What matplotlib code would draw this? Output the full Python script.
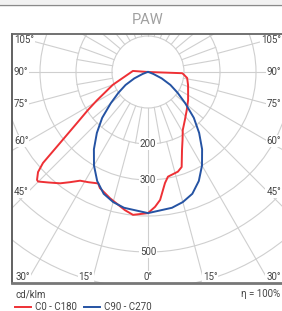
import numpy as np
import matplotlib
matplotlib.use("Agg")
import matplotlib.pyplot as plt
from matplotlib.patches import Circle
from matplotlib.lines import Line2D

plt.rcParams['font.family'] = ['Roboto', 'DejaVu Sans']

# C90 - C270 (symmetric), gamma in degrees from nadir, intensity in cd/klm
gamma_c90 = [0, 10, 15, 20, 25, 30, 35, 40, 45, 50, 55, 60, 65, 70, 75, 80, 90, 180]
i_c90 = [392, 383, 374, 360, 334, 300, 262, 221, 180, 135, 100, 72, 42, 16, 4, 0, 0, 0]

# C0 - C180, left half (C180) and right half (C0)
gamma_c180 = [180, 100, 94, 70, 61, 57.7, 54.3, 51.1, 49.1, 47.7, 45.8, 45.1, 42,
              38.3, 35.3, 32.0, 28.4, 24.1, 22.5, 16.8, 9.5, 6, 0]
i_c180 = [0, 0, 42, 104, 162, 197, 243, 314, 386, 413, 430, 431, 413,
          394, 375, 356, 348, 339, 349, 366, 389, 399, 392]
gamma_c0 = [0, 3, 5.4, 8.7, 10.8, 16.7, 19.5, 23.6, 26.9, 30.9, 37.6, 46, 55, 63,
            72, 81.3, 86.7, 88, 100, 180]
i_c0 = [392, 375, 357, 312, 296, 289, 280, 236, 212, 188, 168, 150, 136, 125,
        117, 110, 98, 95, 0, 0]

rings = [100, 200, 300, 400, 500, 600, 700, 800]
ring_labels = [200, 300, 500]
angle_labels = [105, 90, 75, 60, 45]
bottom_labels = [30, 15, 0, 15, 30]

grid_c = '#cfcfcf'
red = '#ee3035'
blue = '#2553a3'
txt_c = '#444444'
fs = 7


def to_xy(g, r, side):
    g = np.radians(np.asarray(g, dtype=float))
    r = np.asarray(r, dtype=float)
    return side * r * np.sin(g), -r * np.cos(g)


fig = plt.figure(figsize=(2.82, 3.11), dpi=100)
W, H = 282, 311
cx, cy, sc = 148, 72, 0.36  # centre in px, px per cd/klm

ax = fig.add_axes([12 / W, (H - 283) / H, 272 / W, 249 / H])
ax.set_xlim((12 - cx) / sc, (284 - cx) / sc)
ax.set_ylim(-(283 - cy) / sc, (cy - 34) / sc)
ax.set_xticks([])
ax.set_yticks([])
ax.spines['left'].set_color('#555555')
ax.spines['left'].set_linewidth(1.3)
ax.spines['top'].set_color('#666666')
ax.spines['top'].set_linewidth(1.3)
ax.spines['bottom'].set_color('#777777')
ax.spines['bottom'].set_linewidth(2)
ax.spines['right'].set_visible(False)

# grid
for r in rings:
    ax.add_patch(Circle((0, 0), r, fill=False, ec=grid_c, lw=0.8, zorder=1))
for a in range(0, 360, 10):
    t = np.radians(a)
    ax.plot([100 * np.sin(t), 200 * np.sin(t)], [-100 * np.cos(t), -200 * np.cos(t)],
            color=grid_c, lw=0.8, zorder=1)
for a in range(0, 360, 15):
    t = np.radians(a)
    ax.plot([200 * np.sin(t), 2000 * np.sin(t)], [-200 * np.cos(t), -2000 * np.cos(t)],
            color=grid_c, lw=0.8, zorder=1)

# curves
xl, yl = to_xy(gamma_c180, i_c180, -1)
xr, yr = to_xy(gamma_c0, i_c0, 1)
ax.plot(np.concatenate([xl, xr]), np.concatenate([yl, yr]), color=red, lw=1.4, zorder=3)
xb1, yb1 = to_xy(gamma_c90[::-1], i_c90[::-1], -1)
xb2, yb2 = to_xy(gamma_c90, i_c90, 1)
ax.plot(np.concatenate([xb1, xb2]), np.concatenate([yb1, yb2]), color=blue, lw=1.4, zorder=4)

bb = dict(fc='white', ec='none', pad=0.6)
for r in ring_labels:
    ax.text(0, -r, str(r), ha='center', va='center', fontsize=fs, color=txt_c,
            bbox=bb, zorder=2)

xe = (148 - 28) / sc
for a in angle_labels:
    y = -xe / np.tan(np.radians(a)) if a != 90 else 0
    ax.text(-(cx - 14) / sc, y, f'{a}°', ha='left', va='center', fontsize=fs,
            color=txt_c, bbox=bb, zorder=2)
    ax.text((281 - cx) / sc, y, f'{a}°', ha='right', va='center', fontsize=fs,
            color=txt_c, bbox=bb, zorder=2)

yb = -(277 - cy) / sc
for i, a in enumerate(bottom_labels):
    x = yb * np.tan(np.radians(a))
    side = -1 if i < 2 else 1
    ha = 'center' if a == 0 else ('right' if side < 0 else 'left')
    ax.text(side * abs(x), yb, f'{a}°', ha=ha, va='center', fontsize=fs,
            color=txt_c, bbox=bb, zorder=2)

# header line and title
fig.add_artist(Line2D([0, 1], [1 - 4.5 / H, 1 - 4.5 / H], color='#8a8a8a', lw=1))
fig.patches.append(plt.Rectangle((0, 1 - 4 / H), 1, 4 / H, transform=fig.transFigure,
                                 fc='#f2f2f2', ec='none'))
fig.text(148 / W, 1 - 20 / H, 'PAW', ha='center', va='center', fontsize=10.5,
         color='#a0a0a0')

fig.text(15 / W, 1 - 295 / H, 'cd/klm', ha='left', va='center', fontsize=fs, color=txt_c)
fig.text(280 / W, 1 - 294 / H, 'η = 100%', ha='right', va='center', fontsize=fs, color=txt_c)

ly = 1 - 306.5 / H
fig.add_artist(Line2D([15 / W, 31 / W], [ly, ly], color=red, lw=1.4))
fig.text(35 / W, ly, 'C0 - C180', ha='left', va='center', fontsize=fs, color=txt_c)
fig.add_artist(Line2D([84 / W, 100 / W], [ly, ly], color=blue, lw=1.4))
fig.text(104 / W, ly, 'C90 - C270', ha='left', va='center', fontsize=fs, color=txt_c)

fig.savefig('out.png', dpi=100)
